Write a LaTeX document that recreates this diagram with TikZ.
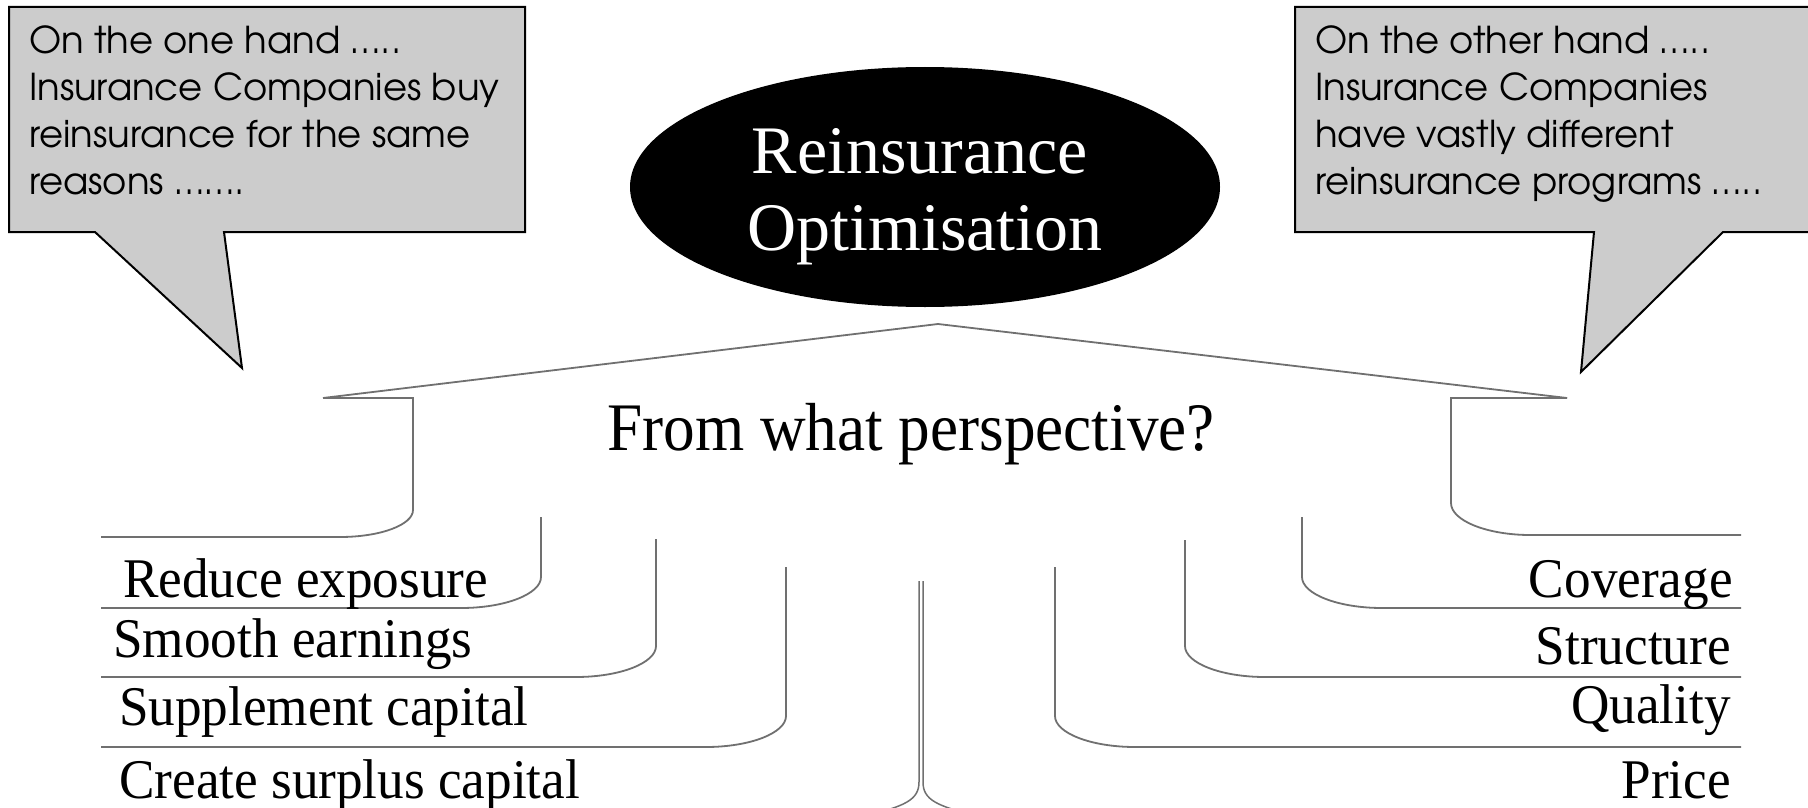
\documentclass[tikz,border=0pt]{standalone}
\usepackage{fontspec}
\usetikzlibrary{shapes.geometric}
\newfontfamily\calloutfont{texgyreadventor-regular.otf}
\newfontfamily\labelfont[FakeStretch=0.95]{Liberation Serif}
\newfontfamily\questionfont[FakeStretch=0.93]{Liberation Serif}
\newfontfamily\titlefont{Liberation Serif}
\definecolor{calloutgray}{RGB}{204,204,204}
\definecolor{linkgray}{RGB}{112,112,112}

\begin{document}
\begin{tikzpicture}[x=1pt,y=-1pt,
  callout/.style={draw=black, line width=2pt, fill=calloutgray, line join=miter},
  link/.style={draw=linkgray, line width=1.8pt},
  calltext/.style={anchor=base west, inner sep=0pt, align=left,
    font=\calloutfont\fontsize{37}{47}\selectfont},
  leftlabel/.style={anchor=base west, inner sep=0pt, font=\labelfont\fontsize{56}{60}\selectfont},
  rightlabel/.style={anchor=base east, inner sep=0pt, font=\labelfont\fontsize{56}{60}\selectfont},
]
\useasboundingbox (0,0) rectangle (1808,808);
\clip (0,0) rectangle (1808,808);

% speech bubbles
\draw[callout] (9,7) -- (525,7) -- (525,232) -- (224,232) -- (242,368) -- (95,232) -- (9,232) -- cycle;
\draw[callout] (1295,7) -- (1820,7) -- (1820,232) -- (1723,232) -- (1581,372) -- (1594,232) -- (1295,232) -- cycle;
% multi-line nodes sit on the baseline of their last line
\node[calltext] (onehand) at (29,194) {On the one hand …..\\Insurance Companies buy\\reinsurance for the same\\reasons …….};
\node[calltext] (otherhand) at (1315,194) {On the other hand …..\\Insurance Companies\\have vastly different\\reinsurance programs …..};

% central ellipse
\node[ellipse, fill=black, minimum width=590pt, minimum height=240pt, inner sep=0pt] (core) at (925,187) {};
\node[anchor=base, inner sep=0pt, text=white, font=\titlefont\fontsize{68}{72}\selectfont] (t1) at (920,173) {Reinsurance};
\node[anchor=base, inner sep=0pt, text=white, font=\titlefont\fontsize{68}{72}\selectfont] (t2) at (925,250) {Optimisation};

% question
\node[anchor=base, inner sep=0pt, font=\questionfont\fontsize{68}{72}\selectfont] (question) at (911,450) {From what perspective?};

% roof and outer brackets
\coordinate (apex) at (938,324);
\coordinate (roofL) at (323,398);
\coordinate (roofR) at (1567,398);
\draw[link] (roofL) -- (apex) -- (roofR);
\draw[link] (roofL) -- (413,398) -- (413,510) .. controls (413,525) and (380,537) .. (340,537) -- (101,537);
\draw[link] (roofR) -- (1451,398) -- (1451,503) .. controls (1451,521) and (1488,535) .. (1530,535) -- (1741,535);

% left hooks
\draw[link] (541,517) -- (541,577) .. controls (541,594) and (505,608) .. (461,608) -- (101,608);
\draw[link] (656,539) -- (656,646) .. controls (656,663) and (620,677) .. (576,677) -- (101,677);
\draw[link] (786,567) -- (786,716) .. controls (786,733) and (750,747) .. (706,747) -- (101,747);

% right hooks
\draw[link] (1302,517) -- (1302,577) .. controls (1302,594) and (1338,608) .. (1382,608) -- (1741,608);
\draw[link] (1185,540) -- (1185,646) .. controls (1185,663) and (1221,677) .. (1265,677) -- (1741,677);
\draw[link] (1055,567) -- (1055,716) .. controls (1055,733) and (1091,747) .. (1135,747) -- (1741,747);

% central stem
\draw[link, line width=1.5pt] (919,581) -- (919,782) .. controls (919,800) and (905,806) .. (865,816);
\draw[link, line width=1.5pt] (923,581) -- (923,782) .. controls (923,800) and (937,806) .. (977,816);

% labels
\node[leftlabel] (l1) at (123,597) {Reduce exposure};
\node[leftlabel] (l2) at (113,657) {Smooth earnings};
\node[leftlabel] (l3) at (119,725) {Supplement capital};
\node[leftlabel] (l4) at (119,798) {Create surplus capital};
\node[rightlabel] (r1) at (1733,597) {Coverage};
\node[rightlabel] (r2) at (1731,664) {Structure};
\node[rightlabel] (r3) at (1731,723) {Quality};
\node[rightlabel] (r4) at (1731,798) {Price};
\end{tikzpicture}
\end{document}
